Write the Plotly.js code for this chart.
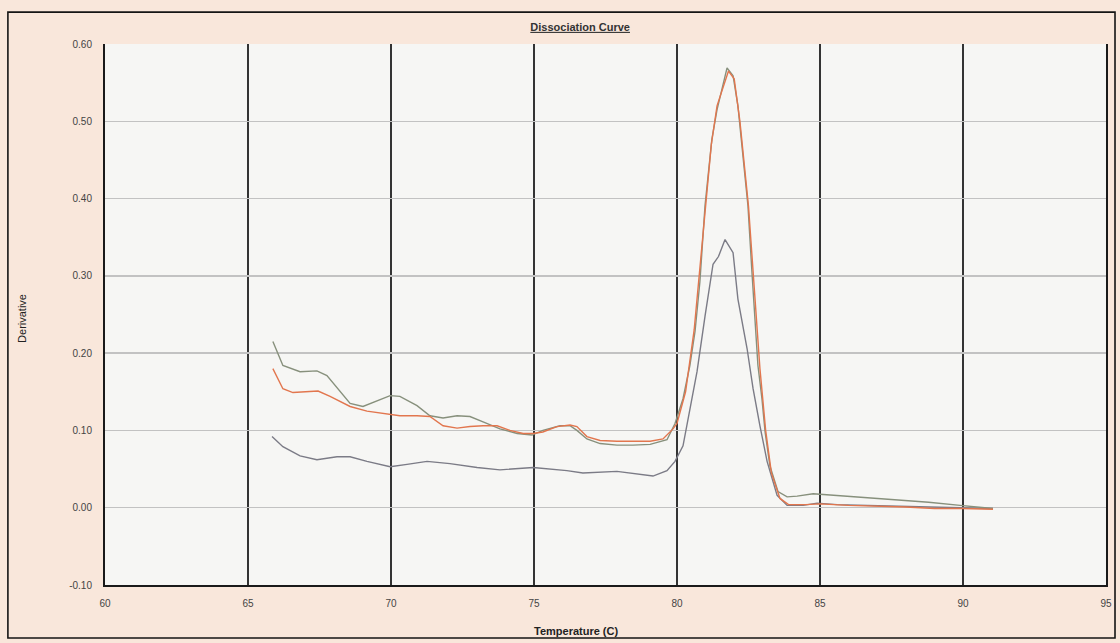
<!DOCTYPE html>
<html>
<head>
<meta charset="utf-8">
<script src="https://cdn.plot.ly/plotly-3.0.1.min.js"></script>
<style>html,body{margin:0;padding:0;background:#f9e7db;}#chart{width:1120px;height:643px;}</style>
</head>
<body>
<div id="chart"></div>
<script>
// Series A (grey-green, highest start)
var tempA = [65.87,66.22,66.82,67.41,67.76,68.22,68.57,69.02,69.51,69.97,70.31,70.91,71.36,71.82,72.31,72.76,73.22,73.81,74.41,74.93,75.31,75.91,76.26,76.50,76.85,77.31,77.90,78.46,79.06,79.65,79.93,80.21,80.45,80.63,80.80,80.98,81.22,81.40,81.75,81.96,82.13,82.31,82.48,82.62,82.83,82.97,83.08,83.25,83.53,83.85,84.20,84.76,85.50,86.05,87.00,87.80,88.80,89.90,91.05];
var derivA = [0.215,0.184,0.176,0.177,0.171,0.151,0.135,0.131,0.138,0.145,0.144,0.132,0.119,0.116,0.119,0.118,0.111,0.102,0.096,0.094,0.100,0.106,0.106,0.100,0.089,0.083,0.081,0.081,0.082,0.088,0.109,0.141,0.184,0.228,0.292,0.391,0.477,0.515,0.569,0.559,0.520,0.455,0.391,0.305,0.184,0.141,0.098,0.054,0.021,0.014,0.015,0.018,0.016,0.015,0.012,0.010,0.007,0.003,-0.001];

// Series B (orange)
var tempB = [65.87,66.22,66.57,67.06,67.45,67.87,68.57,69.16,69.72,70.31,70.91,71.36,71.82,72.31,72.76,73.22,73.71,74.16,74.62,74.97,75.31,75.80,76.26,76.50,76.85,77.31,77.90,78.46,79.06,79.51,79.86,80.00,80.30,80.60,80.90,81.20,81.40,81.80,82.00,82.20,82.50,82.70,82.90,83.10,83.30,83.60,83.90,84.50,85.00,86.00,87.00,88.00,89.00,90.00,91.05];
var derivB = [0.180,0.154,0.149,0.150,0.151,0.144,0.131,0.125,0.122,0.119,0.119,0.118,0.106,0.103,0.105,0.106,0.106,0.100,0.096,0.096,0.098,0.105,0.107,0.105,0.092,0.087,0.086,0.086,0.086,0.089,0.102,0.109,0.150,0.230,0.350,0.470,0.520,0.565,0.555,0.500,0.390,0.280,0.180,0.100,0.045,0.012,0.004,0.004,0.005,0.003,0.002,0.001,-0.001,-0.001,-0.002];

// Series C (grey, lower)
var tempC = [65.84,66.22,66.82,67.41,68.11,68.57,69.16,69.97,70.56,71.26,72.06,73.01,73.81,74.97,76.15,76.71,77.90,78.46,79.16,79.65,79.93,80.21,80.35,80.70,80.98,81.26,81.45,81.68,81.96,82.13,82.45,82.66,82.90,83.15,83.50,83.85,84.41,84.90,85.60,86.50,87.50,88.50,89.90,91.05];
var derivC = [0.092,0.079,0.067,0.062,0.066,0.066,0.060,0.053,0.056,0.060,0.057,0.052,0.049,0.052,0.048,0.045,0.047,0.044,0.041,0.048,0.060,0.080,0.106,0.176,0.248,0.315,0.325,0.347,0.330,0.270,0.206,0.154,0.106,0.060,0.016,0.003,0.003,0.006,0.004,0.003,0.002,0.001,0.000,-0.001];

var xTickVals = [60,65,70,75,80,85,90,95];
var xTickText = ['60','65','70','75','80','85','90','95'];
var yTickVals = [-0.1,0,0.1,0.2,0.3,0.4,0.5,0.6];
var yTickText = ['-0.10','0.00','0.10','0.20','0.30','0.40','0.50','0.60'];

var traces = [
  {x: tempC, y: derivC, type: 'scatter', mode: 'lines', line: {color: '#7b7b86', width: 1.4}, name: 'C'},
  {x: tempA, y: derivA, type: 'scatter', mode: 'lines', line: {color: '#87907c', width: 1.4}, name: 'A'},
  {x: tempB, y: derivB, type: 'scatter', mode: 'lines', line: {color: '#e2764e', width: 1.4}, name: 'B'}
];

var fam = 'Liberation Sans, Arial, sans-serif';
var tickFont = {family: fam, size: 10, color: '#444'};

var layout = {
  width: 1120, height: 643,
  paper_bgcolor: '#f9e7db',
  plot_bgcolor: '#f6f6f4',
  showlegend: false,
  margin: {l: 105, r: 14, t: 44, b: 58, pad: 0},
  title: {
    text: '<b><u>Dissociation Curve</u></b>',
    font: {family: fam, size: 11, color: '#333'},
    x: 0.518, xref: 'container', xanchor: 'center',
    y: 0.958, yref: 'container', yanchor: 'middle'
  },
  xaxis: {
    range: [60, 95], tickmode: 'array', tickvals: xTickVals, ticktext: xTickText,
    showgrid: true, gridcolor: '#333333', gridwidth: 1.3,
    showline: true, linecolor: '#1a1a1a', linewidth: 2, mirror: false,
    zeroline: false, ticks: '', ticklabelstandoff: 8,
    tickfont: tickFont
  },
  yaxis: {
    range: [-0.1, 0.6], tickmode: 'array', tickvals: yTickVals, ticktext: yTickText,
    showgrid: true, gridcolor: '#c2c2c2', gridwidth: 1.5,
    showline: true, linecolor: '#1a1a1a', linewidth: 2, mirror: true,
    zeroline: false, ticks: '', ticklabelstandoff: 9,
    tickfont: tickFont
  },
  annotations: [
    {text: '<b>Temperature (C)</b>', xref: 'paper', yref: 'paper', x: 0.4705, y: -0.085,
     xanchor: 'center', yanchor: 'middle', showarrow: false,
     font: {family: fam, size: 11, color: '#222'}},
    {text: 'Derivative', xref: 'paper', yref: 'paper', x: -0.083, y: 0.4935, textangle: -90,
     xanchor: 'center', yanchor: 'middle', showarrow: false,
     font: {family: fam, size: 11, color: '#222'}}
  ],
  shapes: [
    {type: 'rect', xref: 'paper', yref: 'paper', x0: -0.097, x1: 1.009, y0: -0.098, y1: 1.059,
     line: {color: '#151515', width: 1.6}, fillcolor: 'rgba(0,0,0,0)', layer: 'above'}
  ]
};

Plotly.newPlot('chart', traces, layout, {displayModeBar: false, staticPlot: true});
</script>
</body>
</html>
